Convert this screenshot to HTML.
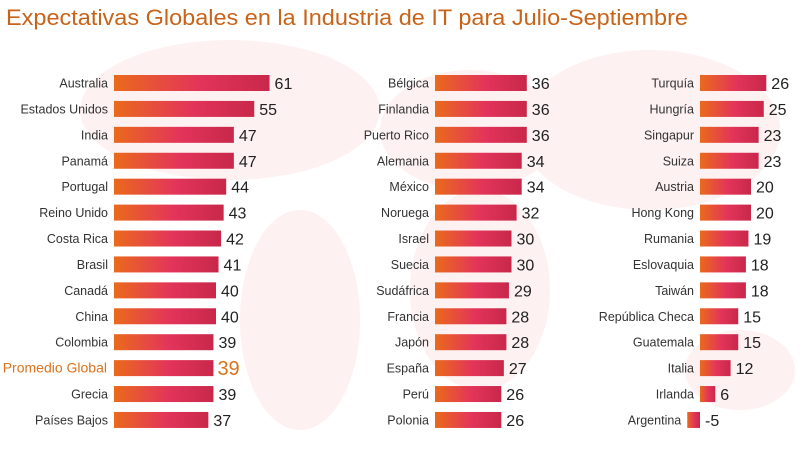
<!DOCTYPE html>
<html><head><meta charset="utf-8"><style>
body{margin:0;width:800px;height:461px;overflow:hidden;background:#fff;font-family:"Liberation Sans",sans-serif}
svg{display:block}
</style></head><body>
<svg width="800" height="461">
<defs>
<linearGradient id="g" x1="0" x2="1" y1="0" y2="0">
<stop offset="0" stop-color="#ea6a1c"/><stop offset="0.55" stop-color="#e3345a"/><stop offset="1" stop-color="#c8284a"/>
</linearGradient>
</defs>
<g fill="#fdf1f1">
<ellipse cx="230" cy="110" rx="150" ry="70"/>
<ellipse cx="300" cy="320" rx="60" ry="110"/>
<ellipse cx="470" cy="130" rx="90" ry="60"/>
<ellipse cx="480" cy="290" rx="70" ry="100"/>
<ellipse cx="650" cy="130" rx="130" ry="80"/>
<ellipse cx="740" cy="370" rx="55" ry="40"/>
</g>
<text x="6" y="25" font-size="22" fill="#c8631a" textLength="682" lengthAdjust="spacingAndGlyphs">Expectativas Globales en la Industria de IT para Julio-Septiembre</text>
<g id="bars"></g>
</svg>
<script>
const col1Names=["Australia","Estados Unidos","India","Panamá","Portugal","Reino Unido","Costa Rica","Brasil","Canadá","China","Colombia","Promedio Global","Grecia","Países Bajos"];
const col1Values=[61,55,47,47,44,43,42,41,40,40,39,39,39,37];
const col2Names=["Bélgica","Finlandia","Puerto Rico","Alemania","México","Noruega","Israel","Suecia","Sudáfrica","Francia","Japón","España","Perú","Polonia"];
const col2Values=[36,36,36,34,34,32,30,30,29,28,28,27,26,26];
const col3Names=["Turquía","Hungría","Singapur","Suiza","Austria","Hong Kong","Rumania","Eslovaquia","Taiwán","República Checa","Guatemala","Italia","Irlanda","Argentina"];
const col3Values=[26,25,23,23,20,20,19,18,18,15,15,12,6,-5];
const NS="http://www.w3.org/2000/svg";
const g=document.getElementById('bars');
const scale=2.55, y0=83, step=25.92, bh=16;
function x(v){return Math.abs(v)*scale;}
function y(i){return y0+i*step;}
function draw(names,vals,zero){
  names.forEach((n,i)=>{
    const v=vals[i], cy=y(i), w=x(v);
    const bx=v<0?zero-w:zero;
    const avg=n==="Promedio Global";
    const r=document.createElementNS(NS,'rect');
    r.setAttribute('x',bx);r.setAttribute('y',cy-bh/2);r.setAttribute('width',w);r.setAttribute('height',bh);
    r.setAttribute('fill','url(#g)');
    
    
    g.appendChild(r);
    const t=document.createElementNS(NS,'text');
    t.setAttribute('x',(v<0?bx:zero)-(avg?7:6));t.setAttribute('y',cy+4.5);t.setAttribute('text-anchor','end');
    t.setAttribute('font-size',avg?14:12.5);t.setAttribute('fill',avg?'#d9731f':'#333');
    t.textContent=n;
    
    
    g.appendChild(t);
    const l=document.createElementNS(NS,'text');
    l.setAttribute('x',(v<0?zero:zero+w)+(avg?4:5));l.setAttribute('y',cy+(avg?7:6));
    l.setAttribute('font-size',avg?20:16);l.setAttribute('fill',avg?'#d9731f':'#222');
    l.textContent=v;
    
    
    g.appendChild(l);
  });
}
draw(col1Names,col1Values,114);
draw(col2Names,col2Values,435);
draw(col3Names,col3Values,700);
</script>
</body></html>
